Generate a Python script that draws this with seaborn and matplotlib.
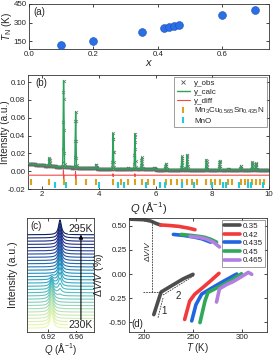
import numpy as np
import pandas as pd
import matplotlib
matplotlib.use("Agg")
import matplotlib.pyplot as plt
from matplotlib.lines import Line2D
import seaborn as sns

sns.set_style("ticks")
plt.rcParams['font.family'] = ['Liberation Sans', 'DejaVu Sans']
plt.rcParams['mathtext.fontset'] = 'custom'
plt.rcParams['mathtext.rm'] = 'Liberation Sans'
plt.rcParams['mathtext.it'] = 'Liberation Sans:italic'
plt.rcParams['mathtext.bf'] = 'Liberation Sans:bold'
for k in ['xtick', 'ytick']:
    plt.rcParams[k + '.direction'] = 'in'
    plt.rcParams[k + '.major.size'] = 2.5
    plt.rcParams[k + '.major.width'] = 0.6
    plt.rcParams[k + '.labelsize'] = 5.7
plt.rcParams['axes.linewidth'] = 0.6
plt.rcParams['axes.edgecolor'] = '#333333'

# ---------------- data ----------------
# (a) Neel temperature vs composition
x_comp = [0.10, 0.20, 0.35, 0.42, 0.435, 0.45, 0.465, 0.60, 0.70]
TN_vals = [124, 155, 223, 258, 265, 270, 283, 363, 405]

# (b) diffraction pattern
bg_Q = [1.5, 2.0, 2.5, 3.0, 3.5, 4.0, 5.0, 6.0, 7.0, 8.0, 9.0, 10.0]
bg_I = [0.0085, 0.0066, 0.0052, 0.0042, 0.0035, 0.0029, 0.0023, 0.0019, 0.0016, 0.0014, 0.0013, 0.0012]
peak_Q = [2.25, 2.755, 3.18, 3.56, 3.90, 4.50, 4.77, 5.03, 5.27, 5.51, 5.95,
          6.36, 6.93, 7.11, 7.79, 8.26, 8.56, 9.00, 9.41, 9.54]
peak_top = [0.0149, 0.1020, 0.0667, 0.0040, 0.0074, 0.0427, 0.0030, 0.0035, 0.0427, 0.0156, 0.0040,
            0.0086, 0.0167, 0.0186, 0.0130, 0.0120, 0.0030, 0.0056, 0.0104, 0.0089]
diff_base = -0.0045
diff_Q = [2.755, 3.18, 4.50, 5.27]
diff_up = [0.0060, 0.0040, 0.0015, 0.0015]
diff_dn = [-0.0080, -0.0060, -0.0015, -0.0015]
bragg_main = [1.59, 2.25, 2.755, 3.18, 3.56, 3.90, 4.50, 4.77, 5.03, 5.27, 5.51, 5.73, 5.95,
              6.36, 6.56, 6.75, 6.93, 7.11, 7.28, 7.46, 7.79, 7.95, 8.11, 8.26, 8.56, 8.71,
              9.00, 9.14, 9.27, 9.41, 9.54, 9.67, 9.81]
bragg_mno = [2.448, 2.827, 3.998, 4.688, 4.896, 5.654, 6.161, 6.321, 6.925, 7.345, 7.996,
             8.362, 8.481, 8.94, 9.27, 9.377, 9.79]

# (c) temperature-dependent peak (bottom 230 K -> top 295 K)
temps_c = [230, 232, 234, 236, 238, 240, 242, 244, 246, 248, 250, 252, 254, 256, 258,
           260, 262, 264, 266, 268, 270, 272, 274, 277, 280, 283, 286, 289, 292, 295]
high_frac = [0, 0, 0, 0, 0, 0, 0, 0, 0, 0, 0.1, 0.25, 0.4, 0.55, 0.7, 0.82, 0.92,
             1, 1, 1, 1, 1, 1, 1, 1, 1, 1, 1, 1, 1]
q_low, q_high = 6.925, 6.9368
h_low, h_high = 5.0, 4.6

# (d) volume change curves
labels_d = ['0.35', '0.42', '0.435', '0.45', '0.465']
colors_d = ['#4d4d4d', '#f23a3a', '#1f66e0', '#2fa85a', '#b07fe0']
hi_T = [[186, 200, 207, 212, 217],
        [217, 225, 235, 245, 252],
        [230, 240, 250, 259, 268],
        [238, 248, 256, 262, 268, 274],
        [247, 256, 263, 271, 277]]
hi_V = [[0.568, 0.562, 0.548, 0.525, 0.507],
        [0.508, 0.503, 0.494, 0.476, 0.459],
        [0.410, 0.400, 0.385, 0.365, 0.330],
        [0.410, 0.400, 0.390, 0.380, 0.360, 0.330],
        [0.390, 0.380, 0.365, 0.330, 0.280]]
lo_T = [[210, 216, 217.5, 230, 240, 250],
        [241.5, 246.6, 251.7, 260, 268, 276.5],
        [248.7, 253, 258.9, 270, 282, 294.6],
        [257.1, 262.2, 265.3, 275, 288, 299.5],
        [274, 277, 284, 291, 299, 306.4, 309.9]]
lo_V = [[-0.42, -0.23, -0.186, -0.11, -0.05, -0.003],
        [-0.47, -0.28, -0.21, -0.14, -0.07, 0.007],
        [-0.485, -0.317, -0.207, -0.14, -0.07, 0.0],
        [-0.503, -0.28, -0.19, -0.14, -0.07, 0.003],
        [-0.29, -0.153, -0.11, -0.078, -0.03, 0.017, -0.003]]

# ---------------- figure ----------------
W, H = 275, 356
fig = plt.figure(figsize=(W / 100, H / 100), dpi=100)

def box(l, t, r, b):
    return [l / W, 1 - b / H, (r - l) / W, (b - t) / H]

ax_a = fig.add_axes(box(29, 4, 269, 49))
ax_b = fig.add_axes(box(28, 75, 269, 189))
ax_c = fig.add_axes(box(27, 218, 94, 332))
ax_d = fig.add_axes(box(129, 218, 267, 332))

for ax in [ax_a, ax_b, ax_c, ax_d]:
    ax.tick_params(top=True, right=True, pad=1.8)
for ax in [ax_c, ax_d]:
    ax.tick_params(axis='x', pad=1.2)

# (a)
sns.scatterplot(x=x_comp, y=TN_vals, ax=ax_a, s=32, color='#2a6fe6',
                edgecolor='#1a4fb8', linewidth=0.4, zorder=3)
ax_a.set_xlim(0, 0.745)
ax_a.set_ylim(90, 450)
ax_a.set_xticks([0.0, 0.2, 0.4, 0.6])
ax_a.set_xticklabels(['0.0', '0.2', '0.4', '0.6'])
ax_a.set_yticks([150, 300, 450])
ax_a.set_xlabel(r'$x$', fontsize=8, labelpad=0)
ax_a.set_ylabel(r'$T_{\rm N}$ (K)', fontsize=7.2)
ax_a.yaxis.set_label_coords(-0.063, 0.5)
ax_a.text(0.02, 0.82, '(a)', transform=ax_a.transAxes, fontsize=7, va='center')

# (b)
Qg = np.arange(1.5, 10.0005, 0.004)
bg = np.interp(Qg, bg_Q, bg_I)
calc = bg.copy()
sig = 0.013
for q0, top in zip(peak_Q, peak_top):
    amp = top - np.interp(q0, bg_Q, bg_I)
    calc += amp * np.exp(-0.5 * ((Qg - q0) / sig) ** 2)
obs_df = pd.DataFrame({'Q': Qg[::2], 'I': calc[::2]})
sns.scatterplot(data=obs_df, x='Q', y='I', ax=ax_b, marker='x', s=5,
                color='#6a6a6a', linewidth=0.45, zorder=2)
sns.lineplot(x=Qg, y=calc, ax=ax_b, color='#2ca25a', lw=1.0, zorder=3,
             estimator=None, sort=False)
dq, dy = [1.5], [diff_base]
for q0, u, d in zip(diff_Q, diff_up, diff_dn):
    dq += [q0 - 0.012, q0 - 0.004, q0 + 0.004, q0 + 0.012]
    dy += [diff_base, diff_base + u, diff_base + d, diff_base]
dq.append(10.0); dy.append(diff_base)
sns.lineplot(x=dq, y=dy, ax=ax_b, color='#f24848', lw=0.8, zorder=4,
             estimator=None, sort=False)
ax_b.plot(bragg_main, [-0.0122] * len(bragg_main), linestyle='none', marker='|',
          ms=4, mew=1.5, color='#dba21c', zorder=5)
ax_b.plot(bragg_mno, [-0.0158] * len(bragg_mno), linestyle='none', marker='|',
          ms=4, mew=1.5, color='#22c8dc', zorder=5)
ax_b.set_xlim(1.5, 10)
ax_b.set_ylim(-0.02, 0.108)
ax_b.set_xticks([2, 4, 6, 8, 10])
ax_b.set_yticks([-0.02, 0.0, 0.02, 0.04, 0.06, 0.08, 0.10])
ax_b.set_yticklabels(['-0.02', '0.00', '0.02', '0.04', '0.06', '0.08', '0.10'])
ax_b.set_xlabel(r'$Q$ (Å$^{-1}$)', fontsize=8, labelpad=1)
ax_b.set_ylabel('Intensity (a.u.)', fontsize=7.2)
ax_b.yaxis.set_label_coords(-0.075, 0.5)
ax_b.text(0.03, 0.93, '(b)', transform=ax_b.transAxes, fontsize=7, va='center')
handles = [Line2D([], [], ls='none', marker='x', ms=2.5, mew=0.6, color='#555555'),
           Line2D([], [], color='#2ca25a', lw=1.0),
           Line2D([], [], color='#f24848', lw=0.8),
           Line2D([], [], ls='none', marker='|', ms=4, mew=1.5, color='#dba21c'),
           Line2D([], [], ls='none', marker='|', ms=4, mew=1.5, color='#22c8dc')]
labs = ['y_obs', 'y_calc', 'y_diff', r'Mn$_3$Cu$_{0.565}$Sn$_{0.435}$N', 'MnO']
leg = ax_b.legend(handles, labs, loc='upper right', fontsize=5.8, frameon=True,
                  fancybox=False, edgecolor='#555555', handlelength=1.6,
                  handletextpad=0.6, borderpad=0.3, labelspacing=0.15,
                  borderaxespad=0.25)
leg.get_frame().set_linewidth(0.5)

# (c)
qc = np.linspace(6.89, 6.985, 500)
gam = 0.0024
cmap = plt.get_cmap('YlGnBu')
n = len(temps_c)
for i, (T, f) in enumerate(zip(temps_c, high_frac)):
    prof = (1 - f) * h_low / (1 + ((qc - q_low) / gam) ** 2) + \
        f * h_high / (1 + ((qc - q_high) / gam) ** 2)
    sns.lineplot(x=qc, y=prof + i, ax=ax_c, color=cmap(0.13 + 0.85 * i / (n - 1)),
                 lw=0.8, estimator=None, sort=False)
ax_c.set_xlim(6.89, 6.985)
ax_c.set_ylim(-1.2, 34.2)
ax_c.set_xticks([6.92, 6.96])
ax_c.set_xticklabels(['6.92', '6.96'])
ax_c.set_yticks([])
ax_c.tick_params(left=False, right=False)
ax_c.set_xlabel(r'$Q$ (Å$^{-1}$)', fontsize=7.0)
ax_c.xaxis.set_label_coords(0.5, -0.082)
ax_c.set_ylabel('Intensity (a.u.)', fontsize=7.6)
ax_c.yaxis.set_label_coords(-0.13, 0.5)
ax_c.text(0.05, 0.93, '(c)', transform=ax_c.transAxes, fontsize=7, va='center')
ax_c.annotate('', xy=(0.805, 0.855), xytext=(0.805, 0.08), xycoords='axes fraction',
              arrowprops=dict(arrowstyle='-|>', lw=0.8, color='black',
                              mutation_scale=6, shrinkA=0, shrinkB=0))
ax_c.text(0.80, 0.905, '295K', transform=ax_c.transAxes, fontsize=7.5, ha='center',
          va='center', bbox=dict(facecolor='white', edgecolor='none', pad=0.3))
ax_c.text(0.80, 0.06, '230K', transform=ax_c.transAxes, fontsize=7.5, ha='center',
          va='center', bbox=dict(facecolor='white', edgecolor='none', pad=0.3))

# (d)
for k in range(5):
    sns.lineplot(x=hi_T[k], y=hi_V[k], ax=ax_d, color=colors_d[k], lw=2.6,
                 estimator=None, sort=False, solid_capstyle='round', label=labels_d[k])
    sns.lineplot(x=lo_T[k], y=lo_V[k], ax=ax_d, color=colors_d[k], lw=2.6,
                 estimator=None, sort=False, solid_capstyle='round')
dk = dict(color='#333333', lw=0.6, ls=(0, (2, 1.2)))
ax_d.plot([208, 208], [0.548, -0.187], **dk)
ax_d.plot([199, 217.3], [-0.187, -0.187], **dk)
ax_d.plot([214.3, 219.4], [-0.452, -0.248], **dk)
ax_d.plot([219.4, 251.7], [-0.217, -0.013], **dk)
ax_d.text(220.6, -0.378, '1', fontsize=7, ha='center', va='center')
ax_d.text(234.7, -0.228, '2', fontsize=7, ha='center', va='center')
ax_d.text(204, 0.24, r'$\Delta V/V$', fontsize=6, rotation=90, ha='center', va='center')
ax_d.set_xlim(184.7, 325.5)
ax_d.set_ylim(-0.60, 0.58)
ax_d.set_xticks([200, 250, 300])
ax_d.set_yticks([-0.5, -0.25, 0.0, 0.25, 0.5])
ax_d.set_yticklabels(['-0.50', '-0.25', '0.00', '0.25', '0.50'])
ax_d.set_xlabel(r'$T$ (K)', fontsize=7.0)
ax_d.xaxis.set_label_coords(0.5, -0.082)
ax_d.set_ylabel(r'$\Delta V/V$ (%)', fontsize=7.6)
ax_d.yaxis.set_label_coords(-0.165, 0.5)
ax_d.text(0.02, 0.07, '(d)', transform=ax_d.transAxes, fontsize=7, va='center')
legd = ax_d.legend(loc='upper right', fontsize=5.8, frameon=True, fancybox=False,
                   edgecolor='#555555', handlelength=2.0, handletextpad=0.3,
                   borderpad=0.25, labelspacing=0.12, borderaxespad=0.3)
legd.get_frame().set_linewidth(0.5)

fig.savefig('out.png', dpi=100)
